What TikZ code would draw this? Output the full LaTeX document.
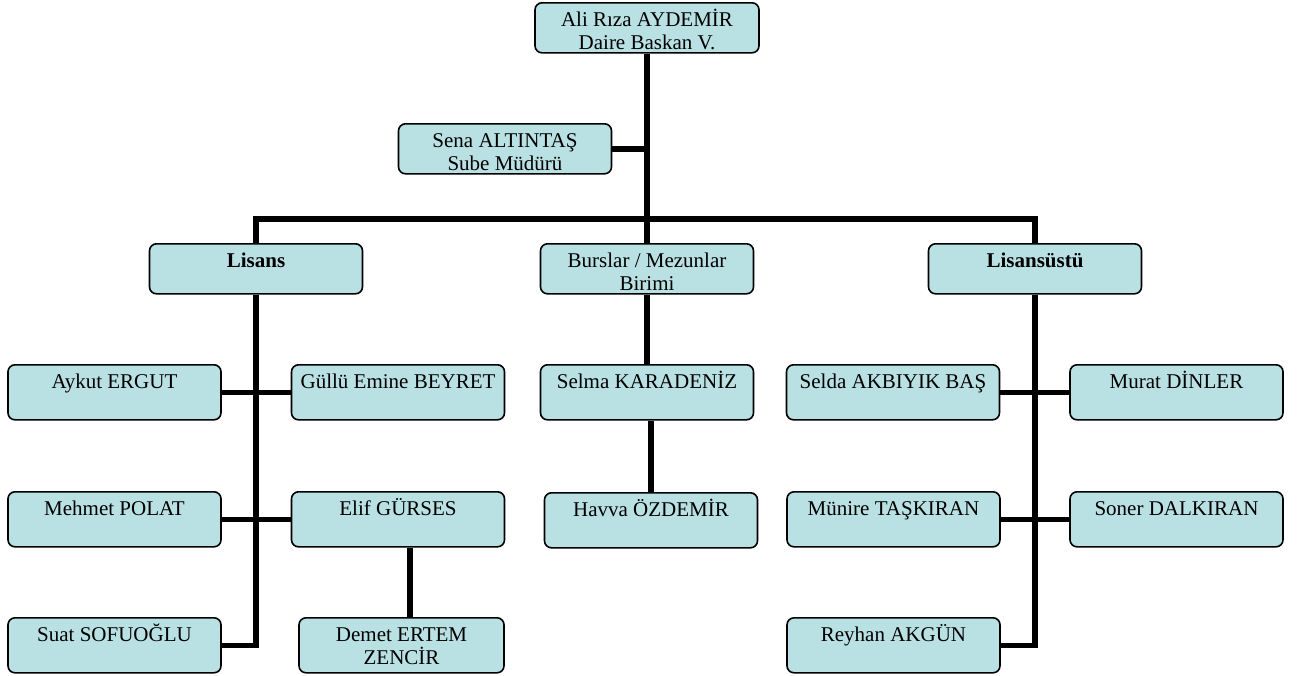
\documentclass[tikz,border=0pt]{standalone}
\usepackage{fontspec}
\setmainfont{Liberation Serif}
\definecolor{boxfill}{RGB}{185,224,227}

\begin{document}
\begin{tikzpicture}[
      x=1pt, y=-1pt, % pixel units, y pointing down
      unit box/.style={draw, fill=boxfill, line width=1.6pt, rounded corners=7pt,
        anchor=north, minimum width=213pt, inner xsep=2pt, inner ysep=0pt,
        text height=24pt, text depth=31pt, align=center,
        font=\fontsize{21}{23}\selectfont},
      head box/.style={unit box, text depth=26pt},
      two lines/.style={unit box, text height=47pt, text depth=#1},
      link/.style={line width=5.5pt}
    ]

    \useasboundingbox (0,0) rectangle (1297,675);

    % Management
    \node[two lines=3pt, minimum width=224pt] (ali) at (647,2) {Ali Rıza AYDEMİR\\Daire Baskan V.};
    \node[two lines=3pt] (sena) at (505,123) {Sena ALTINTAŞ\\Sube Müdürü};

    % Units
    \node[head box] (lisans) at (256,243) {\bfseries Lisans};
    \node[two lines=3pt] (burslar) at (647,243) {Burslar / Mezunlar\\Birimi};
    \node[head box] (lisansustu) at (1035,243) {\bfseries Lisansüstü};

    % Staff of Lisans
    \node[unit box] (aykut) at (114.5,364) {Aykut ERGUT};
    \node[unit box] (gullu) at (398,364) {Güllü Emine BEYRET};
    \node[unit box] (mehmet) at (114.5,491) {Mehmet POLAT};
    \node[unit box] (elif) at (398,491) {Elif GÜRSES};
    \node[unit box] (suat) at (114.5,617) {Suat SOFUOĞLU};
    \node[two lines=8pt, minimum width=205pt] (demet) at (401.5,617) {Demet ERTEM\\ZENCİR};

    % Staff of Burslar / Mezunlar
    \node[unit box] (selma) at (647,364) {Selma KARADENİZ};
    \node[unit box] (havva) at (651,492) {Havva ÖZDEMİR};

    % Staff of Lisansüstü
    \node[unit box] (selda) at (893,364) {Selda AKBIYIK BAŞ};
    \node[unit box] (murat) at (1176.5,364) {Murat DİNLER};
    \node[unit box] (munire) at (893.5,491) {Münire TAŞKIRAN};
    \node[unit box] (soner) at (1176.5,491) {Soner DALKIRAN};
    \node[unit box] (reyhan) at (893.5,617) {Reyhan AKGÜN};

    % Main trunk and bar
    \coordinate (bar) at (647,219);
    \draw[link] (ali.south) -- (burslar.north);
    \draw[link] (sena.east) -- (sena.east -| ali.south);
    \draw[link] (lisans.north) |- (bar) -| (lisansustu.north);

    % Lisans branch
    \draw[link] (lisans.south) |- (suat.east);
    \draw[link] (aykut.east) -- (gullu.west);
    \draw[link] (mehmet.east) -- (elif.west);
    \draw[link] ([xshift=12pt]elif.south) -- ([xshift=12pt]elif.south |- demet.north);

    % Burslar branch
    \draw[link] (burslar.south) -- (selma.north);
    \draw[link] (havva.north) -- (havva.north |- selma.south);

    % Lisansüstü branch
    \draw[link] (lisansustu.south) |- (reyhan.east);
    \draw[link] (selda.east) -- (murat.west);
    \draw[link] (munire.east) -- (soner.west);

  \end{tikzpicture}
\end{document}
